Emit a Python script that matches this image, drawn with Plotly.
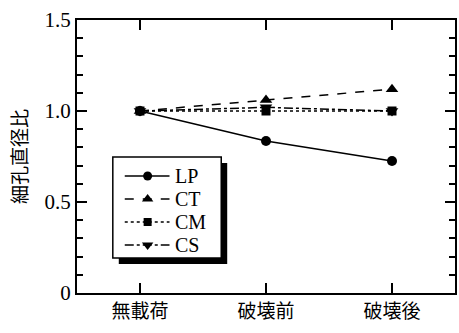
import plotly.graph_objects as go

categories = ["無載荷", "破壊前", "破壊後"]
lp = [1.0, 0.835, 0.725]
ct = [1.0, 1.06, 1.12]
cm = [1.0, 1.0, 1.0]
cs = [1.0, 1.02, 1.0]
y_ticks = [0, 0.5, 1.0, 1.5]
y_ticktext = ["0", "0.5", "1.0", "1.5"]
series_names = ["LP", "CT", "CM", "CS"]

xpos = list(range(len(categories)))

serif = "Liberation Serif, Times New Roman, serif"
cjk = "Noto Sans CJK JP"

W, H = 459, 333
ML, MR, MT, MB = 77, 2, 20, 40

fig = go.Figure()
styles = [("solid", "circle", 10), ("dash", "triangle-up", 11),
          ("dot", "square", 9), ("dashdot", "triangle-down", 11)]
values = [lp, ct, cm, cs]
for name, vals, (dash, sym, sz) in zip(series_names, values, styles):
    fig.add_trace(go.Scatter(
        x=xpos, y=vals, name=name, mode="lines+markers", showlegend=False,
        line=dict(color="black", width=1.5, dash=dash),
        marker=dict(symbol=sym, size=sz, color="black"),
    ))

# manual legend on a pixel-coordinate overlay axis
lx0, lx1, ly0, ly1 = 113, 222, 157, 258
shadow = 6
row_y0, row_step = 176, 23
for i, (name, (dash, sym, sz)) in enumerate(zip(series_names, styles)):
    yy = row_y0 + i * row_step
    fig.add_trace(go.Scatter(
        x=[125, 170], y=[yy, yy], mode="lines", showlegend=False, hoverinfo="skip",
        line=dict(color="black", width=1.5, dash=dash), xaxis="x2", yaxis="y2",
    ))
    fig.add_trace(go.Scatter(
        x=[148], y=[yy], mode="markers", showlegend=False, hoverinfo="skip",
        marker=dict(symbol=sym, size=sz - 1, color="black"), xaxis="x2", yaxis="y2",
    ))
    fig.add_annotation(x=174, y=yy, xref="x2", yref="y2", text=name, showarrow=False,
                       xanchor="left", yanchor="middle",
                       font=dict(family=serif, size=20, color="black"))

fig.add_shape(type="rect", xref="x2", yref="y2",
              x0=lx0 + shadow, x1=lx1 + shadow, y0=ly0 + shadow, y1=ly1 + shadow,
              fillcolor="black", line=dict(width=0), layer="below")
fig.add_shape(type="rect", xref="x2", yref="y2",
              x0=lx0, x1=lx1, y0=ly0, y1=ly1,
              fillcolor="white", line=dict(color="black", width=1.5), layer="below")

fig.update_layout(
    width=W, height=H,
    margin=dict(l=ML, r=MR, t=MT, b=MB),
    paper_bgcolor="white", plot_bgcolor="white",
    font=dict(family=serif, size=20, color="black"),
    showlegend=False,
    xaxis2=dict(overlaying="x", range=[ML, W - MR], visible=False, fixedrange=True),
    yaxis2=dict(overlaying="y", range=[H - MB, MT], visible=False, fixedrange=True),
)

fig.update_layout(yaxis=dict(
    range=[0, 1.5], tickvals=y_ticks, ticktext=y_ticktext,
    tickfont=dict(family=serif, size=21),
    ticks="inside", ticklen=10, tickwidth=1.5, tickcolor="black",
    minor=dict(dtick=0.1, ticks="inside", ticklen=6, tickwidth=1.5, tickcolor="black", showgrid=False),
    showline=True, linecolor="black", linewidth=2, mirror="ticks",
    showgrid=False, zeroline=False,
    title=dict(text="細孔直径比", font=dict(family=cjk, size=19), standoff=12),
))
fig.update_layout(xaxis=dict(
    range=[-0.5, 2.5], tickvals=xpos, ticktext=categories,
    tickfont=dict(family=cjk, size=19),
    ticks="inside", ticklen=10, tickwidth=1.5, tickcolor="black",
    showline=True, linecolor="black", linewidth=2, mirror="ticks",
    showgrid=False, zeroline=False,
))

fig.write_html("out.html")
